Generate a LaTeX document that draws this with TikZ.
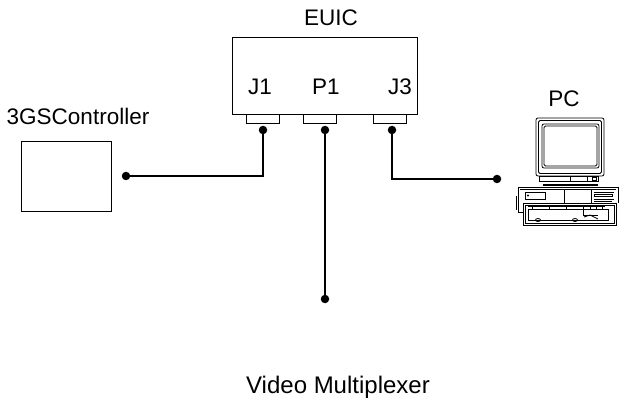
\documentclass[tikz,border=0pt]{standalone}
\usepackage{fontspec}
\setmainfont{Liberation Sans}
\begin{document}
\begin{tikzpicture}[x=1pt,y=-1pt,
  lbl/.style={inner sep=0pt,anchor=base,font=\fontsize{22.5}{27}\selectfont},
  biglbl/.style={lbl,font=\fontsize{24}{29}\selectfont},
  unit/.style={draw,line width=0.9pt,inner sep=0pt},
  jack/.style={draw,line width=0.8pt,inner sep=0pt,minimum width=33pt,minimum height=9pt},
  wire/.style={line width=1.4pt},
  pin/.style={circle,fill,inner sep=0pt,minimum size=8.5pt},
  pcline/.style={line width=0.8pt}]
\useasboundingbox (0,0) rectangle (619,401);

% interface unit with its three connectors
\node[unit,minimum width=185pt,minimum height=77pt] (euic) at (324.5,75.5) {};
\node[lbl] (euictxt) at (331,26) {EUIC};
\node[lbl] (j1txt) at (260,95) {J1};
\node[lbl] (p1txt) at (326,95) {P1};
\node[lbl] (j3txt) at (400,95) {J3};
\node[jack] (j1) at (262.5,118.5) {};
\node[jack] (p1) at (320,118.5) {};
\node[jack] (j3) at (389.5,118.5) {};
\node[pin] (j1pin) at (263,130) {};
\node[pin] (p1pin) at (325,130) {};
\node[pin] (j3pin) at (392,130) {};

% controller
\node[unit,minimum width=90pt,minimum height=70pt] (ctrl) at (66,176) {};
\node[lbl] (ctrltxt) at (78,125) {3GSController};
\node[pin] (ctrlpin) at (126,176) {};

% video multiplexer end
\node[pin] (vmpin) at (325,299) {};
\node[biglbl] (vmtxt) at (338,393) {Video Multiplexer};

% PC end
\node[pin] (pcpin) at (497,179) {};
\node[lbl] (pctxt) at (564,107) {PC};

% wiring
\draw[wire] (ctrlpin) -- (j1pin |- ctrlpin) -- (j1pin);
\draw[wire] (p1pin) -- (vmpin);
\draw[wire] (j3pin) -- (j3pin |- pcpin) -- (pcpin);

% personal computer drawing
\begin{scope}[pcline]
  % monitor housing and screen
  \draw[rounded corners=2pt] (536,118) rectangle (604,176);
  \draw[rounded corners=1.5pt] (538.5,120.5) rectangle (601.5,173.5);
  \draw[rounded corners=2pt] (542,124) rectangle (599,168);
  \draw[rounded corners=1.5pt] (544,126) rectangle (597,166);
  % monitor foot
  \draw (539,176) rectangle (598,181);
  \draw (570,176) -- (570,181) (587,176) -- (587,181) (592,177) rectangle (596,180);
  \draw[line width=1.6pt] (543,185) -- (598,185);
  % system unit
  \draw (518,187) -- (618,187) -- (618,203);
  \draw (518,187) -- (518,212) -- (523,212);
  \draw (520,189) -- (616,189);
  \draw (525,192) rectangle (545,199);
  \fill (528,195.5) circle (1.2pt);
  \draw (564,189) -- (564,203) (591,189) -- (591,203);
  \draw (594,192) -- (614,192) (594,194) rectangle (612,196);
  \draw (594,199) -- (614,199) (594,201) -- (612,201);
  \draw (516,196) -- (516,210);
  % keyboard
  \draw (523,203) rectangle (616,225);
  \draw (525,205) rectangle (614,223);
  \draw (528,209) rectangle (608,220);
  \draw (528,206) -- (605,206);
  \foreach \kx in {532,549,566,583,590,596,602} {\draw (\kx,206) -- (\kx,209);}
  \draw (583,209) -- (583,215) -- (598,215);
  \draw (584,217) -- (590,215) -- (598,219);
  \draw (538,220) ellipse (2.5pt and 1.5pt);
  \draw (575,220) ellipse (2.5pt and 1.5pt);
\end{scope}
\end{tikzpicture}
\end{document}
